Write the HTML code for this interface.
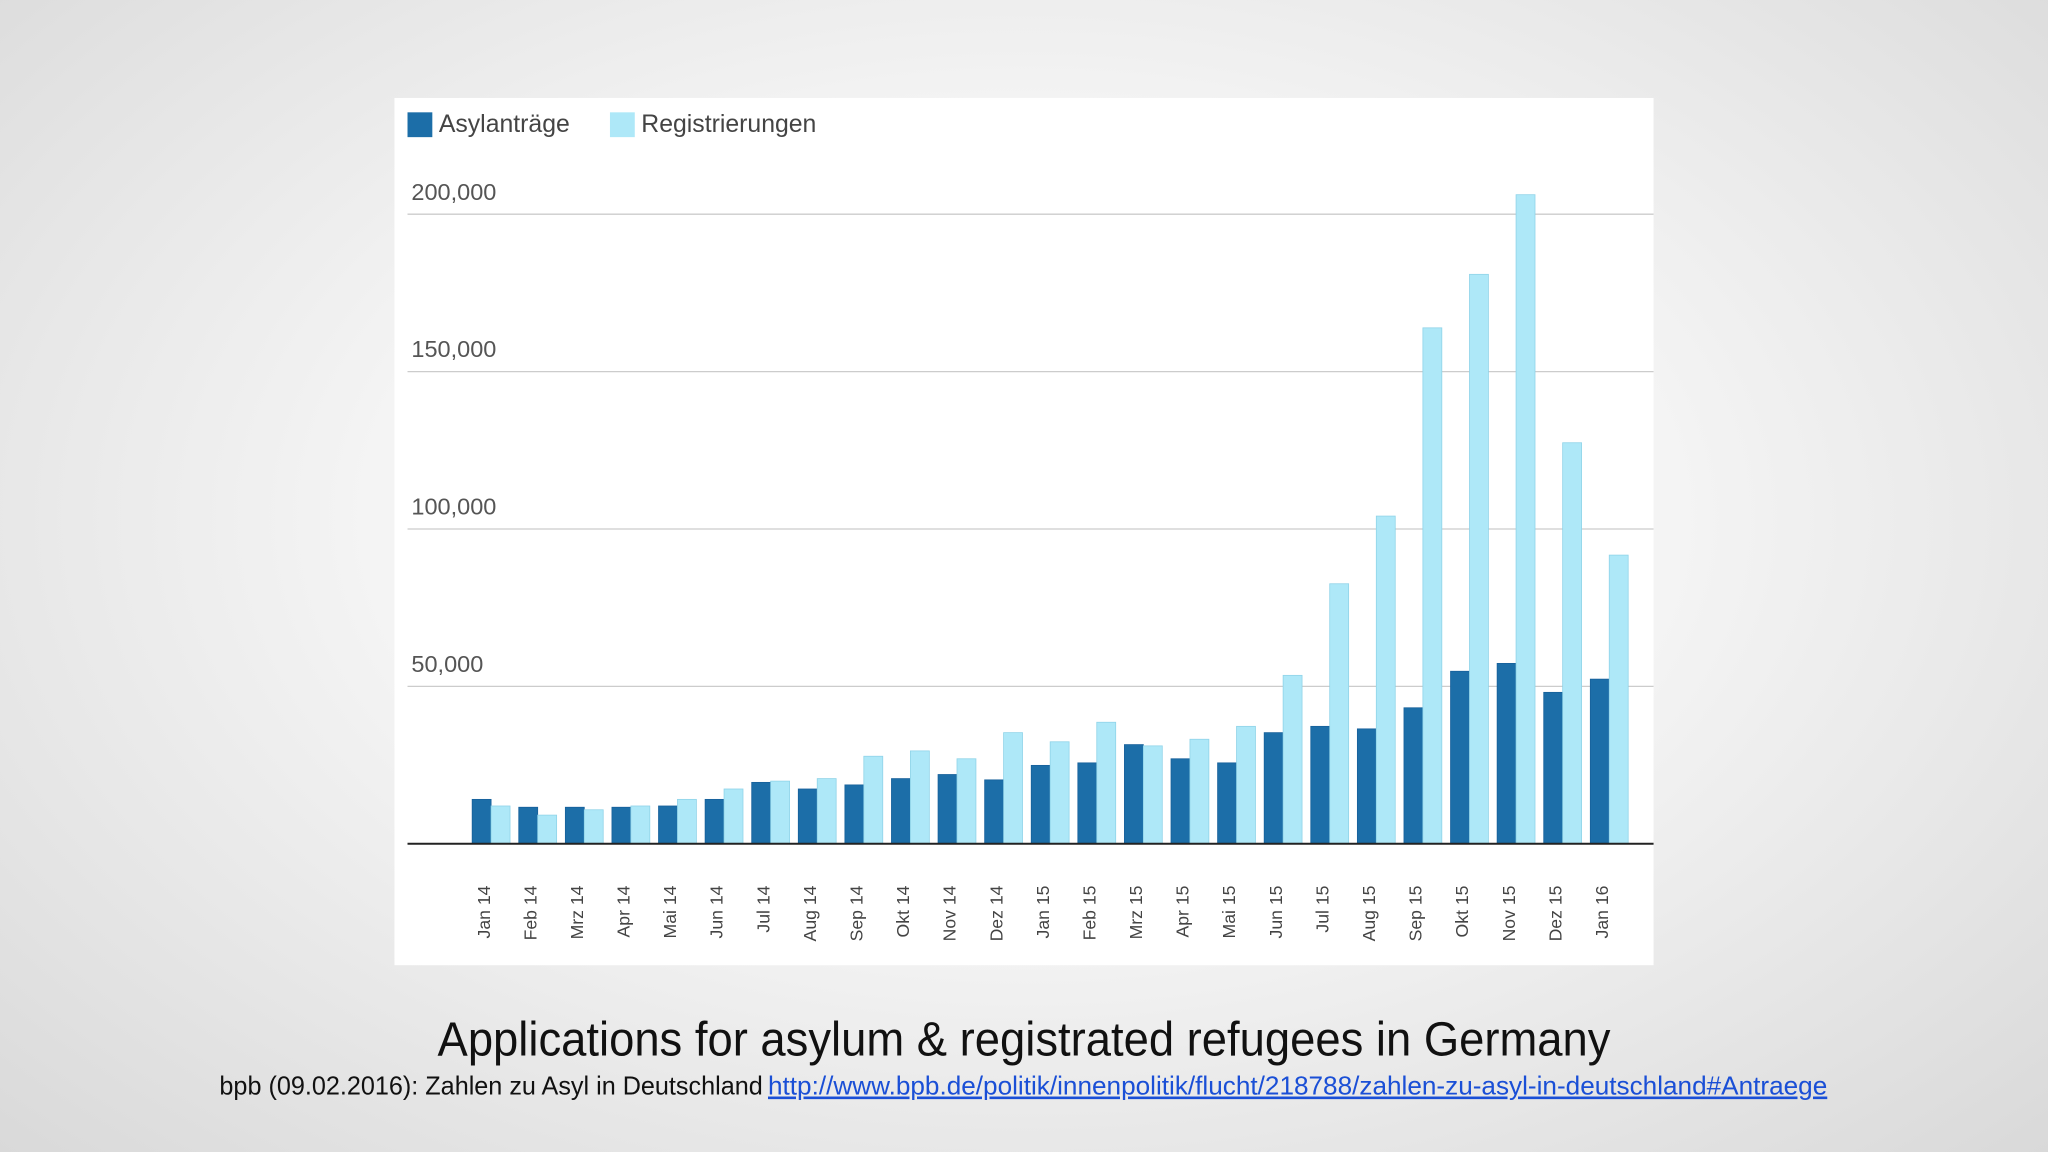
<!DOCTYPE html>
<html><head><meta charset="utf-8">
<style>
html,body{margin:0;padding:0;width:2048px;height:1152px;overflow:hidden}
body{background:radial-gradient(ellipse at 50% 45%,#ffffff 0%,#f4f4f4 45%,#d9d9d9 100%)}
svg{display:block}
</style></head>
<body>
<svg id="chart" width="2048" height="1152" viewBox="0 0 1568 882" xmlns="http://www.w3.org/2000/svg">
  <rect x="302" y="75" width="964" height="664" fill="#ffffff"/>
  <g>
    <rect x="312" y="86" width="19" height="19" fill="#1c6ea8"/>
    <text x="336" y="101" font-family="Liberation Sans, sans-serif" font-size="19" fill="#444">Asylanträge</text>
    <rect x="467" y="86" width="19" height="19" fill="#aee8f8"/>
    <text x="491" y="101" font-family="Liberation Sans, sans-serif" font-size="19" fill="#444">Registrierungen</text>
  </g>
  <g id="grid"></g>
  <g id="bars"></g>
  <g id="xlabels"></g>
  <text x="784" y="808" text-anchor="middle" font-family="Liberation Sans Narrow, Liberation Sans, sans-serif" font-size="37" fill="#111" textLength="898" lengthAdjust="spacingAndGlyphs">Applications for asylum &amp; registrated refugees in Germany</text>
  <text x="168" y="838" font-family="Liberation Sans Narrow, Liberation Sans, sans-serif" font-size="20" fill="#111" textLength="416" lengthAdjust="spacingAndGlyphs">bpb (09.02.2016): Zahlen zu Asyl in Deutschland</text>
  <text x="588" y="838" font-family="Liberation Sans Narrow, Liberation Sans, sans-serif" font-size="20" fill="#1a4fd6" text-decoration="underline" textLength="811" lengthAdjust="spacingAndGlyphs">http://www.bpb.de/politik/innenpolitik/flucht/218788/zahlen-zu-asyl-in-deutschland#Antraege</text>
</svg>
<script>
const categories = ["Jan 14","Feb 14","Mrz 14","Apr 14","Mai 14","Jun 14","Jul 14","Aug 14","Sep 14","Okt 14","Nov 14","Dez 14","Jan 15","Feb 15","Mrz 15","Apr 15","Mai 15","Jun 15","Jul 15","Aug 15","Sep 15","Okt 15","Nov 15","Dez 15","Jan 16"];
const asylantraege = [14100,11600,11600,11600,12000,14100,19500,17400,18700,20700,22000,20300,24900,25700,31500,27000,25700,35300,37300,36500,43200,54800,57300,48100,52300];
const registrierungen = [12000,9100,10800,12000,14100,17400,19900,20700,27800,29500,27000,35300,32400,38600,31100,33200,37300,53500,82600,104100,163900,180900,206200,127400,91700];
const yTicks = [50000,100000,150000,200000];
const yTickLabels = ["50,000","100,000","150,000","200,000"];

const NS="http://www.w3.org/2000/svg";
const baseY=646, pxPer=120.5/50000;
function y(v){return baseY - v*pxPer;}
function xc(i){return 376 + i*35.67;}
function mk(tag,attrs,parent){const e=document.createElementNS(NS,tag);for(const k in attrs)e.setAttribute(k,attrs[k]);parent.appendChild(e);return e;}

const grid=document.getElementById('grid');
yTicks.forEach((t,i)=>{
  const l=mk('line',{x1:312,x2:1266,y1:y(t),y2:y(t),stroke:'#cccccc','stroke-width':1},grid);
  
  
  const tx=mk('text',{x:315,y:y(t)-11,'font-family':'Liberation Sans, sans-serif','font-size':18,fill:'#555'},grid);
  tx.textContent=yTickLabels[i];
  
  
});

const bars=document.getElementById('bars');
const bw=14.5;
categories.forEach((c,i)=>{
  const cx=xc(i);
  const a=mk('rect',{x:cx-bw,y:y(asylantraege[i]),width:bw,height:baseY-y(asylantraege[i]),fill:'#1c6ea8',stroke:'#17609a','stroke-width':0.6},bars);
  
  
  const r=mk('rect',{x:cx,y:y(registrierungen[i]),width:bw,height:baseY-y(registrierungen[i]),fill:'#aee8f8',stroke:'#8fd3e8','stroke-width':0.6},bars);
  
  
});
const ax=mk('line',{x1:312,x2:1266,y1:baseY,y2:baseY,stroke:'#222','stroke-width':1.5},bars);



const xl=document.getElementById('xlabels');
categories.forEach((c,i)=>{
  const lx=xc(i)-1, ty=678;
  const t=mk('text',{x:lx,y:ty,'text-anchor':'end','font-family':'Liberation Sans, sans-serif','font-size':13.5,fill:'#444',transform:`rotate(-90 ${lx} ${ty})`},xl);
  t.textContent=c;
  
  
});
</script>
</body></html>
